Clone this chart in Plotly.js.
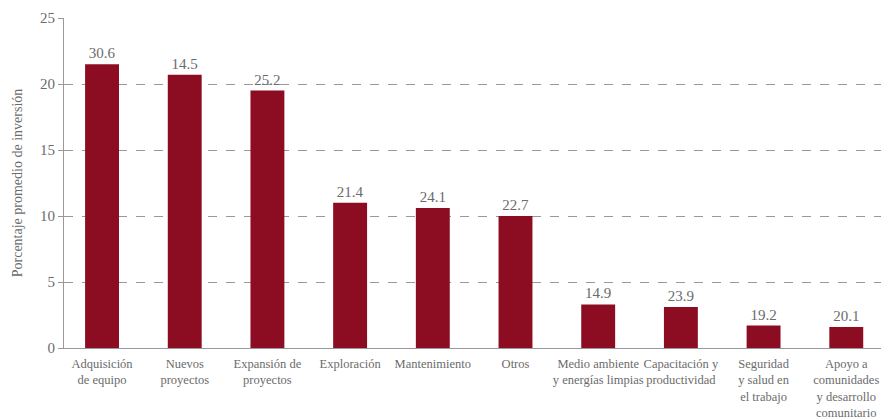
<!DOCTYPE html>
<html>
<head>
<meta charset="utf-8">
<script src="https://cdn.plot.ly/plotly-3.0.1.min.js"></script>
<style>html,body{margin:0;padding:0;background:#fff;}#chart{width:881px;height:420px;}</style>
</head>
<body>
<div id="chart"></div>
<script>
const categories = [
  "Adquisición<br>de equipo",
  "Nuevos<br>proyectos",
  "Expansión de<br>proyectos",
  "Exploración",
  "Mantenimiento",
  "Otros",
  "Medio ambiente<br>y energías limpias",
  "Capacitación y<br>productividad",
  "Seguridad<br>y salud en<br>el trabajo",
  "Apoyo a<br>comunidades<br>y desarrollo<br>comunitario"
];
const values = [21.5, 20.7, 19.5, 11.0, 10.6, 10.0, 3.3, 3.1, 1.7, 1.6];
const barLabels = ["30.6", "14.5", "25.2", "21.4", "24.1", "22.7", "14.9", "23.9", "19.2", "20.1"];
const yTicks = [0, 5, 10, 15, 20, 25];

const font = "Liberation Serif";
const gray = "#6b6b6b";

const trace = {
  type: "bar",
  x: categories.map((c, i) => i),
  y: values,
  text: barLabels,
  textposition: "outside",
  textfont: {family: font, size: 15, color: gray},
  cliponaxis: false,
  marker: {color: "#8c0c22"},
  width: 0.41,
  hoverinfo: "none"
};

const layout = {
  width: 881, height: 420,
  margin: {l: 64, r: 0, t: 18, b: 72},
  paper_bgcolor: "#fff", plot_bgcolor: "#fff",
  showlegend: false,
  font: {family: font, color: gray},
  xaxis: {
    range: [-0.46, 9.42],
    tickvals: categories.map((c, i) => i),
    ticktext: categories,
    tickangle: 0,
    ticklabelstandoff: 4,
    tickfont: {family: font, size: 12.5, color: gray},
    showline: true, linecolor: "#999", linewidth: 1,
    showgrid: false, zeroline: false, ticks: "",
    automargin: false,
    fixedrange: true
  },
  yaxis: {
    range: [0, 25],
    tickvals: yTicks,
    ticktext: yTicks.map(String),
    tickfont: {family: font, size: 15, color: gray},
    showline: true, linecolor: "#999", linewidth: 1,
    ticks: "outside", ticklen: 5, tickcolor: "#999",
    showgrid: true, gridcolor: "#999", griddash: "dash", gridwidth: 1,
    zeroline: false,
    title: {text: "Porcentaje promedio de inversión", font: {family: font, size: 14, color: gray}, standoff: 14},
    automargin: false
  }
};

Plotly.newPlot("chart", [trace], layout, {staticPlot: true, displayModeBar: false});
</script>
</body>
</html>
